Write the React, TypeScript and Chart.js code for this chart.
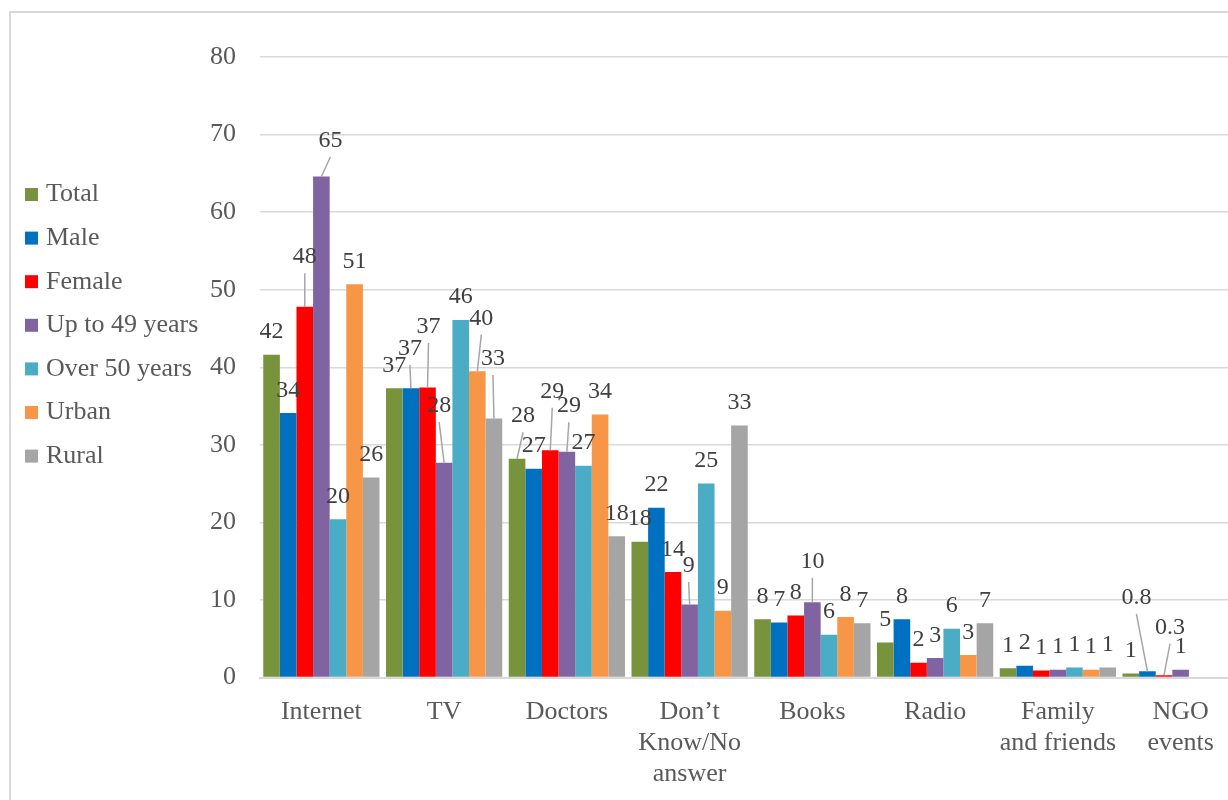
import React, { useEffect, useRef } from "react";
import { Chart, registerables } from "chart.js";

Chart.register(...registerables);

const categories: (string | string[])[] = [
  "Internet",
  "TV",
  "Doctors",
  ["Don’t", "Know/No", "answer"],
  "Books",
  "Radio",
  ["Family", "and friends"],
  ["NGO", "events"],
];

const seriesNames = ["Total", "Male", "Female", "Up to 49 years", "Over 50 years", "Urban", "Rural"];
const seriesColors = ["#77933C", "#0070C0", "#FF0000", "#8064A2", "#4BACC6", "#F79646", "#A5A5A5"];

const total = [41.6, 37.3, 28.2, 17.5, 7.5, 4.5, 1.2, 0.5];
const male = [34.1, 37.3, 26.9, 21.9, 7.1, 7.5, 1.5, 0.8];
const female = [47.8, 37.4, 29.3, 13.6, 8.0, 1.9, 0.9, 0.3];
const upTo49 = [64.6, 27.7, 29.1, 9.4, 9.7, 2.5, 1.0, 1.0];
const over50 = [20.4, 46.1, 27.3, 25.0, 5.5, 6.3, 1.3, null];
const urban = [50.7, 39.5, 33.9, 8.6, 7.8, 2.9, 1.0, null];
const rural = [25.8, 33.4, 18.2, 32.5, 7.0, 7.0, 1.3, null];

const seriesValues = [total, male, female, upTo49, over50, urban, rural];

// Label texts shown for the last category (kept as in the source)
const ngoLabels = ["1", "0.8", "0.3", "1", "", "", ""];

const yTicks = { min: 0, max: 80, step: 10 };

// Manual label placement (series index, category index, shift x, shift y) with leader lines
const labelNudges = [
  { s: 2, c: 0, dx: 0, dy: -27 },
  { s: 3, c: 0, dx: 9, dy: -13 },
  { s: 1, c: 1, dx: -1, dy: -17 },
  { s: 2, c: 1, dx: 1, dy: -38 },
  { s: 3, c: 1, dx: -5, dy: -34 },
  { s: 5, c: 1, dx: 4, dy: -30 },
  { s: 6, c: 1, dx: -1, dy: -37 },
  { s: 0, c: 2, dx: 6, dy: -20 },
  { s: 2, c: 2, dx: 2, dy: -36 },
  { s: 3, c: 2, dx: 2, dy: -23 },
  { s: 3, c: 3, dx: -1, dy: -16 },
  { s: 3, c: 4, dx: 0, dy: -18 },
  { s: 1, c: 7, dx: -11, dy: -51 },
  { s: 2, c: 7, dx: 6, dy: -25 },
];

const FONT = "'Liberation Serif', 'Times New Roman', serif";

const framePlugin = {
  id: "frame",
  beforeDraw(chart: any) {
    const ctx = chart.ctx;
    ctx.save();
    ctx.fillStyle = "#FFFFFF";
    ctx.fillRect(0, 0, chart.width, chart.height);
    ctx.strokeStyle = "#D9D9D9";
    ctx.lineWidth = 2;
    ctx.strokeRect(10, 12, chart.width + 40, chart.height + 40);
    ctx.restore();
  },
};

const legendPlugin = {
  id: "sideLegend",
  afterDraw(chart: any) {
    const ctx = chart.ctx;
    ctx.save();
    ctx.font = `26px ${FONT}`;
    ctx.textBaseline = "middle";
    ctx.textAlign = "left";
    chart.data.datasets.forEach((ds: any, i: number) => {
      const cy = 194.5 + i * 43.6;
      ctx.fillStyle = ds.backgroundColor;
      ctx.fillRect(25, cy - 6.5, 13, 13);
      ctx.fillStyle = "#595959";
      ctx.fillText(ds.label, 46, cy);
    });
    ctx.restore();
  },
};

const dataLabelPlugin = {
  id: "dataLabels",
  afterDatasetsDraw(chart: any) {
    const ctx = chart.ctx;
    ctx.save();
    ctx.font = `24px ${FONT}`;
    ctx.textAlign = "center";
    ctx.textBaseline = "alphabetic";
    chart.data.datasets.forEach((ds: any, si: number) => {
      const meta = chart.getDatasetMeta(si);
      meta.data.forEach((bar: any, ci: number) => {
        const v = ds.data[ci];
        if (v === null || v === undefined) return;
        const text = ci === 7 ? ngoLabels[si] : String(Math.round(v));
        if (!text) return;
        const n = labelNudges.find((q) => q.s === si && q.c === ci);
        const dx = n ? n.dx : 0;
        const dy = n ? n.dy : 0;
        const lx = bar.x + dx;
        const ly = bar.y - 16.5 + dy;
        if (n) {
          ctx.strokeStyle = "#A6A6A6";
          ctx.lineWidth = 1.5;
          ctx.beginPath();
          ctx.moveTo(lx, ly + 10);
          ctx.lineTo(bar.x, bar.y);
          ctx.stroke();
        }
        ctx.fillStyle = "#404040";
        ctx.fillText(text, lx, ly);
      });
    });
    ctx.restore();
  },
};

export default function App() {
  const canvasRef = useRef<HTMLCanvasElement | null>(null);

  useEffect(() => {
    document.body.style.margin = "0";
    const canvas = canvasRef.current;
    if (!canvas) return;
    const chart = new Chart(canvas, {
      type: "bar",
      data: {
        labels: categories,
        datasets: seriesNames.map((name, i) => ({
          label: name,
          data: seriesValues[i],
          backgroundColor: seriesColors[i],
          borderWidth: 0,
          categoryPercentage: 0.947,
          barPercentage: 1.0,
        })),
      },
      options: {
        responsive: false,
        animation: false,
        layout: { padding: { left: 0, top: 57, right: 0, bottom: 0 } },
        plugins: {
          legend: { display: false },
          tooltip: { enabled: false },
        },
        scales: {
          x: {
            grid: { display: false },
            border: { display: true, color: "#D9D9D9", width: 2 },
            ticks: {
              color: "#595959",
              font: { family: FONT, size: 26, lineHeight: 1.2 },
              padding: 11,
              maxRotation: 0,
              autoSkip: false,
            },
            afterFit(scale: any) {
              scale.height = 122.5;
            },
          },
          y: {
            min: yTicks.min,
            max: yTicks.max,
            grid: { color: "#D9D9D9", lineWidth: 1.5, drawTicks: false },
            border: { display: false },
            ticks: {
              stepSize: yTicks.step,
              color: "#595959",
              font: { family: FONT, size: 26 },
              padding: 24,
            },
            afterFit(scale: any) {
              scale.width = 260;
            },
          },
        },
      },
      plugins: [framePlugin, dataLabelPlugin, legendPlugin],
    });
    return () => chart.destroy();
  }, []);

  return (
    <div style={{ position: "fixed", left: 0, top: 0, width: 1228, height: 800, overflow: "hidden", background: "#fff" }}>
      <canvas ref={canvasRef} width={1242} height={800} style={{ display: "block" }} />
    </div>
  );
}
